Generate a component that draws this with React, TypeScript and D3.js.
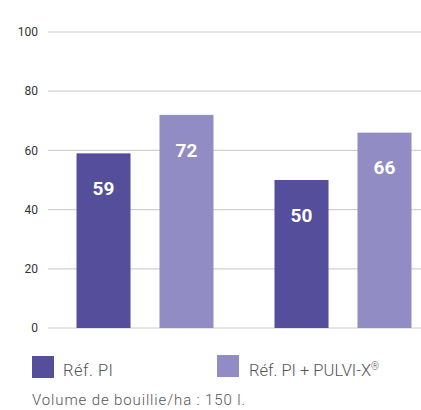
import React from "react";
import * as d3 from "d3";

const groups = ["essai1", "essai2"];
const series = ["Réf. PI", "Réf. PI + PULVI-X®"];
const refPI = [59, 50];
const refPulvi = [72, 66];
const yTicks = [0, 20, 40, 60, 80, 100];
const caption = "Volume de bouillie/ha : 150 l.";

const colors = ["#554e9b", "#918cc4"];
const W = 421;
const H = 410;

const App = () => {
    const y = d3.scaleLinear().domain([0, 100]).range([328, 32]);
    const x0 = d3.scaleBand().domain(groups).range([45.5, 441.5]).padding(0);
    const x1 = d3.scaleBand().domain(series).range([31, 168]).paddingInner(0.349).paddingOuter(0);
    const values = [refPI, refPulvi];

    return (
        <svg width={W} height={H} style={{position: "absolute", left: 0, top: 0}}>
            <g>
                {yTicks.map(t => (
                    <g key={t}>
                        <line x1={48} x2={W} y1={y(t)} y2={y(t)} stroke="#d0d0d0" strokeWidth={1.2} />
                        <text x={38} y={y(t)} dy="0.35em" textAnchor="end"
                              fontFamily="Roboto" fontSize={12} fill="#333">{t}</text>
                    </g>
                ))}
            </g>
            {groups.map((g, gi) => (
                <g key={g} transform={`translate(${x0(g)},0)`}>
                    {series.map((s, si) => {
                        const v = values[si][gi];
                        return (
                            <g key={s}>
                                <rect x={x1(s)} y={y(v)} width={x1.bandwidth()} height={y(0) - y(v)} fill={colors[si]} />
                                <text x={x1(s) + x1.bandwidth() / 2} y={y(v) + 35} dy="0.35em" textAnchor="middle"
                                      fontFamily="Roboto" fontWeight="bold" fontSize={19} fill="#fff">{v}</text>
                            </g>
                        );
                    })}
                </g>
            ))}
            <g fontFamily="Roboto" fontWeight={300} fill="#555">
                <rect x={32} y={356} width={22} height={22} fill={colors[0]} />
                <text x={63} y={376} fontSize={16.5} textLength={50}>{series[0]}</text>
                <rect x={217} y={355} width={22} height={22} fill={colors[1]} />
                <text x={249} y={376} fontSize={16.5}>
                    {series[1].replace("®", "")}
                    <tspan fontSize={10} dy={-6}>®</tspan>
                </text>
                <text x={32} y={405} fontSize={15} textLength={213}>{caption}</text>
            </g>
        </svg>
    );
};

export default App;
